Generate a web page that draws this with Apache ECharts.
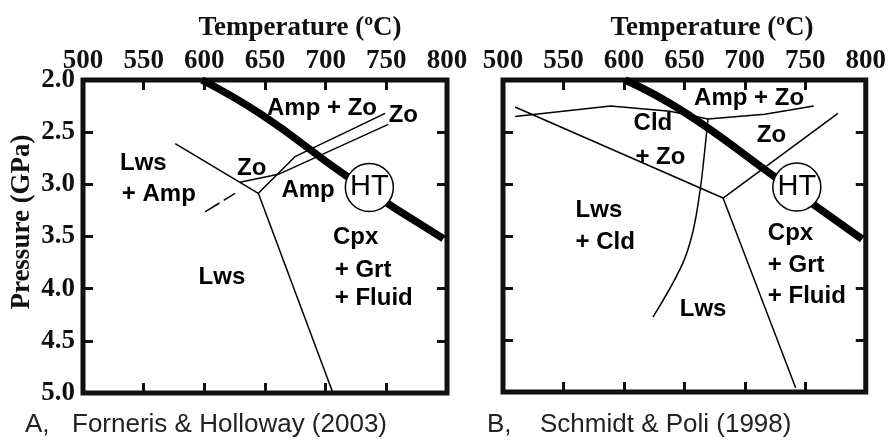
<!DOCTYPE html>
<html>
<head>
<meta charset="utf-8">
<script src="https://cdn.jsdelivr.net/npm/echarts@6/dist/echarts.min.js"></script>
<style>html,body{margin:0;padding:0;background:#fff;}#chart{width:889px;height:441px;}</style>
</head>
<body>
<div id="chart"></div>
<script>
// ---- Data (Temperature °C, Pressure GPa) ----
const tempTicks = [500, 550, 600, 650, 700, 750, 800];
const pressTicks = [2.0, 2.5, 3.0, 3.5, 4.0, 4.5, 5.0];

// Panel A: Forneris & Holloway (2003)
const thickA = [[598, 2.0], [647.5, 2.335], [718.4, 2.93], [797, 3.52]];
const lineA1 = [[576, 2.61], [644.5, 3.086]];
const lineA2 = [[644.5, 3.086], [706, 5.0]];
const lineA3 = [[629.4, 2.98], [661, 2.904], [751.6, 2.425]];
const lineA4 = [[644.5, 3.086], [674.7, 2.735], [749, 2.32]];
const dashA = [[600.6, 3.265], [625.3, 3.086]];
const htA = [736, 3.03];
const labelTextA = ['Amp + Zo', 'Zo', 'Lws', '+ Amp', 'Zo', 'Amp', 'Cpx', '+ Grt', '+ Fluid', 'Lws'];
const labelTA = [697, 764, 530.5, 532, 639, 685.5, 706, 707.5, 707.5, 614.5];
const labelPA = [2.27, 2.335, 2.80, 3.10, 2.845, 3.055, 3.505, 3.82, 4.09, 3.89];
const labelAlignA = ['center', 'center', 'left', 'left', 'center', 'center', 'left', 'left', 'left', 'center'];

// Panel B: Schmidt & Poli (1998)
const thickB = [[601, 2.0], [650, 2.31], [724.6, 2.93], [797, 3.53]];
const lineB1 = [[510, 2.26], [682, 3.135]];
const lineB2 = [[510, 2.35], [589, 2.25], [638, 2.30], [669.5, 2.375], [716.5, 2.33], [757, 2.25]];
const lineB3 = [[669.5, 2.375], [666, 2.77], [663, 3.06], [657, 3.46], [648, 3.78], [624, 4.28]];
const lineB4 = [[682, 3.135], [777, 2.32]];
const lineB5 = [[682, 3.135], [742, 4.96]];
const htB = [743, 3.03];
const labelTextB = ['Amp + Zo', 'Cld', '+ Zo', 'Zo', 'Cpx', '+ Grt', '+ Fluid', 'Lws', 'Lws', '+ Cld'];
const labelTB = [703.5, 624, 609.5, 722, 719, 719, 719, 665.5, 560, 560];
const labelPB = [2.175, 2.415, 2.74, 2.53, 3.47, 3.78, 4.085, 4.21, 3.25, 3.565];
const labelAlignB = ['center', 'center', 'left', 'center', 'left', 'left', 'left', 'center', 'left', 'left'];

const axisTitleX = 'Temperature (ºC)';
const axisTitleY = 'Pressure (GPa)';
const captionA = ['A,', 'Forneris & Holloway (2003)'];
const captionB = ['B,', 'Schmidt & Poli (1998)'];

// ---- Chart ----
const INK = '#111';
const serif = 'Liberation Serif';
const sans = 'Liberation Sans';

function xAxisDef(gridIndex, pos, showLabel) {
  return {
    type: 'value', gridIndex, position: pos, min: tempTicks[0], max: tempTicks[tempTicks.length - 1],
    interval: 50, splitLine: { show: false }, axisLine: { show: false },
    axisTick: { show: true, inside: true, length: 10, lineStyle: { color: INK, width: 3 } },
    axisLabel: { show: showLabel, margin: 5, fontFamily: serif, fontWeight: 'bold', fontSize: 27, color: INK }
  };
}
function yAxisDef(gridIndex, pos, showLabel) {
  return {
    type: 'value', gridIndex, position: pos, inverse: true, min: pressTicks[0], max: pressTicks[pressTicks.length - 1],
    interval: 0.5, splitLine: { show: false }, axisLine: { show: false },
    axisTick: { show: true, inside: true, length: 10, lineStyle: { color: INK, width: 3 } },
    axisLabel: { show: showLabel, margin: 8, fontFamily: serif, fontWeight: 'bold', fontSize: 27, color: INK,
      formatter: v => v.toFixed(1) }
  };
}
function thin(data, xi, yi, extra) {
  return Object.assign({
    type: 'line', data, xAxisIndex: xi, yAxisIndex: yi, symbol: 'none', silent: true, z: 2,
    lineStyle: { color: '#000', width: 1.5 }
  }, extra || {});
}
function thick(data, xi, yi) {
  return { type: 'line', data, xAxisIndex: xi, yAxisIndex: yi, symbol: 'none', smooth: 0.5, z: 3, silent: true,
    lineStyle: { color: '#000', width: 7.5, cap: 'butt' } };
}
function htCircle(pt, xi, yi) {
  return { type: 'scatter', data: [pt], xAxisIndex: xi, yAxisIndex: yi, symbol: 'circle', symbolSize: 48, z: 4,
    itemStyle: { color: '#fff', borderColor: '#000', borderWidth: 1.5, opacity: 1 }, silent: true,
    label: { show: true, position: 'inside', formatter: 'HT', fontFamily: sans, fontSize: 29, color: '#000' } };
}
function regionLabels(texts, ts, ps, aligns, xi, yi) {
  return { type: 'scatter', xAxisIndex: xi, yAxisIndex: yi, symbolSize: 0, z: 5, silent: true,
    itemStyle: { opacity: 1 },
    data: texts.map((t, i) => ({ name: t, value: [ts[i], ps[i]],
      label: { align: aligns[i] } })),
    label: { show: true, position: 'inside', formatter: p => p.name, fontFamily: sans, fontWeight: 'bold',
      fontSize: 24, color: '#000', textBorderWidth: 0, verticalAlign: 'middle' } };
}

const chart = echarts.init(document.getElementById('chart'), null, { renderer: 'canvas' });
chart.setOption({
  animation: false,
  backgroundColor: '#fff',
  grid: [
    { left: 83, top: 80, width: 364, height: 313, show: true, borderWidth: 5, borderColor: INK, backgroundColor: 'transparent' },
    { left: 503, top: 80, width: 370, height: 312, show: true, borderWidth: 5, borderColor: INK, backgroundColor: 'transparent' }
  ],
  xAxis: [xAxisDef(0, 'top', true), xAxisDef(0, 'bottom', false), xAxisDef(1, 'top', true), xAxisDef(1, 'bottom', false)],
  yAxis: [yAxisDef(0, 'left', true), yAxisDef(0, 'right', false), yAxisDef(1, 'left', false), yAxisDef(1, 'right', false)],
  series: [
    thin(lineA1, 0, 0), thin(lineA2, 0, 0), thin(lineA3, 0, 0), thin(lineA4, 0, 0),
    thin(dashA, 0, 0, { lineStyle: { color: '#000', width: 1.5, type: [17, 5] } }),
    thick(thickA, 0, 0), htCircle(htA, 0, 0),
    regionLabels(labelTextA, labelTA, labelPA, labelAlignA, 0, 0),
    thin(lineB1, 2, 2), thin(lineB2, 2, 2), thin(lineB3, 2, 2, { smooth: 0.4 }), thin(lineB4, 2, 2), thin(lineB5, 2, 2),
    thick(thickB, 2, 2), htCircle(htB, 2, 2),
    regionLabels(labelTextB, labelTB, labelPB, labelAlignB, 2, 2)
  ],
  graphic: [
    { type: 'text', x: 300, y: 28, style: { text: axisTitleX, font: 'bold 27px "Liberation Serif"', fill: INK, align: 'center', verticalAlign: 'middle' } },
    { type: 'text', x: 712, y: 28, style: { text: axisTitleX, font: 'bold 27px "Liberation Serif"', fill: INK, align: 'center', verticalAlign: 'middle' } },
    { type: 'text', x: 22, y: 222, rotation: Math.PI / 2, style: { text: axisTitleY, font: 'bold 27px "Liberation Serif"', fill: INK, align: 'center', verticalAlign: 'middle' } },
    { type: 'text', x: 25, y: 425, style: { text: captionA[0], font: '26px "Liberation Sans"', fill: '#222', align: 'left', verticalAlign: 'middle' } },
    { type: 'text', x: 72, y: 425, style: { text: captionA[1], font: '26px "Liberation Sans"', fill: '#222', align: 'left', verticalAlign: 'middle' } },
    { type: 'text', x: 487, y: 425, style: { text: captionB[0], font: '26px "Liberation Sans"', fill: '#222', align: 'left', verticalAlign: 'middle' } },
    { type: 'text', x: 540, y: 425, style: { text: captionB[1], font: '26px "Liberation Sans"', fill: '#222', align: 'left', verticalAlign: 'middle' } }
  ]
});
</script>
</body>
</html>
